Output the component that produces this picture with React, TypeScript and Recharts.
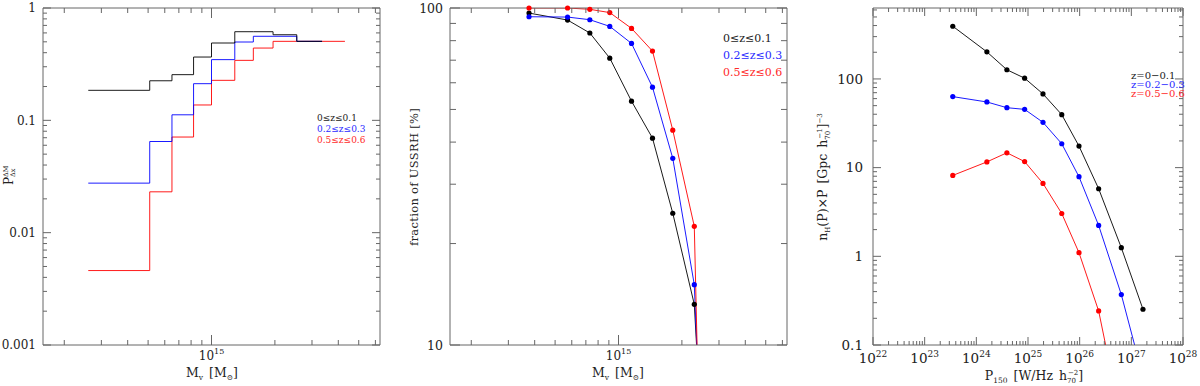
import React from 'react';
import { LineChart, Line, XAxis, YAxis } from 'recharts';

// left panel: histogram bin edges (virial mass, Msun) and probability per bin
const massBinEdges = [2.6e14, 5.09e14, 6.49e14, 8.22e14, 1.0e15, 1.29e15, 1.58e15, 1.96e15, 2.54e15, 3.35e15, 4.3e15];
const probZ01 = [0.185, 0.225, 0.255, 0.366, 0.488, 0.615, 0.615, 0.578, 0.505];
const probZ23 = [0.0276, 0.0648, 0.112, 0.212, 0.347, 0.498, 0.56, 0.56, 0.505];
const probZ56 = [0.0046, 0.0231, 0.071, 0.137, 0.227, 0.342, 0.44, 0.505, 0.505, 0.505];

// middle panel: fraction of USSRH [%] vs virial mass
const fracMass = [3.76e14, 5.73e14, 7.31e14, 9.09e14, 1.153e15, 1.45e15, 1.81e15, 2.29e15, 2.37e15];
const fracZ01 = [96.6, 92.1, 84.3, 71.0, 52.9, 41.1, 24.6, 13.2, 9];
const fracZ23 = [94.2, 94.0, 92.3, 88.2, 78.5, 58.2, 35.8, 15.1, 9];
const fracZ56 = [100, 100, 99.1, 96.9, 87.0, 74.5, 43.4, 22.5, 9];

// right panel: number density x P vs P150
const power150 = [3.5e23, 1.6e24, 3.9e24, 8.6e24, 1.95e25, 4.5e25, 9.7e25, 2.33e26, 6.4e26, 1.68e27];
const densZ01 = [393, 202, 127, 102, 67.8, 39.6, 17.5, 5.78, 1.25, 0.253];
const densZ23 = [63.2, 55, 47.4, 45.4, 32.4, 18.6, 7.9, 2.23, 0.37, 0.044];
const densZ56 = [8.17, 11.6, 14.7, 11.7, 6.64, 3.04, 1.1, 0.242, 0.0138];

const legendMass = ['0≤z≤0.1', '0.2≤z≤0.3', '0.5≤z≤0.6'];
const legendPower = ['z=0−0.1', 'z=0.2−0.3', 'z=0.5−0.6'];

const massMajors = [1e15];
const fracMajors = [10, 100];
const probMajors = [0.001, 0.01, 0.1, 1];
const powerMajors = [1e22, 1e23, 1e24, 1e25, 1e26, 1e27, 1e28];
const densMajors = [0.1, 1, 10, 100];

const FRAME = '#666';
const TXT = '#222';
const FONT = '"DejaVu Serif", serif';
const W = 400;
const H = 386;

// 1..9 x 10^e ticks inside a log domain
const logTicks = (lo: number, hi: number) => {
  const out: number[] = [];
  for (let e = Math.floor(Math.log10(lo)); e <= Math.ceil(Math.log10(hi)); e++) {
    for (let m = 1; m <= 9; m++) {
      const v = m * Math.pow(10, e);
      if (v >= lo * 0.9999 && v <= hi * 1.0001) out.push(v);
    }
  }
  return out;
};

const isMajor = (v: number, majors: number[]) => majors.some((m) => Math.abs(v / m - 1) < 1e-6);

type Side = 'bottom' | 'top' | 'left' | 'right';
type TickOpts = { majors: number[]; len: number; minor: number; font?: number; gap?: number; sup?: number };

const makeTick = (side: Side, o: TickOpts) => (props: any) => {
  const { x, y, payload } = props;
  const v = payload.value;
  const major = isMajor(v, o.majors);
  const l = major ? o.len : o.minor;
  const x2 = side === 'left' ? x + l : side === 'right' ? x - l : x;
  const y2 = side === 'bottom' ? y - l : side === 'top' ? y + l : y;
  let label = null;
  if (major && side === 'left') {
    label = (
      <text x={x - (o.gap ?? 7)} y={y} dy="0.36em" textAnchor="end" fontSize={o.font} fill={TXT} fontFamily={FONT}>
        {String(v)}
      </text>
    );
  }
  if (major && side === 'bottom') {
    label = (
      <text x={x} y={y + (o.gap ?? 15)} textAnchor="middle" fontSize={o.font} fill={TXT} fontFamily={FONT}>
        <tspan>10</tspan>
        <tspan dy={-6} fontSize={o.sup}>{Math.round(Math.log10(v))}</tspan>
      </text>
    );
  }
  return (
    <g>
      <line x1={x} y1={y} x2={x2} y2={y2} stroke={FRAME} strokeWidth={1} />
      {label}
    </g>
  );
};

type Series = { data: { x: number; y: number }[]; color: string; step?: boolean; dot?: boolean };

const pts = (xs: number[], ys: number[]) => ys.map((y, i) => ({ x: xs[i], y }));
const stepPts = (bins: number[]) =>
  massBinEdges.slice(0, bins.length + 1).map((x, i) => ({ x, y: bins[Math.min(i, bins.length - 1)] }));

type PanelProps = {
  margin: { top: number; right: number; bottom: number; left: number };
  xDomain: [number, number];
  yDomain: [number, number];
  xMajors: number[];
  yMajors: number[];
  xTick: Partial<TickOpts>;
  yTick: Partial<TickOpts>;
  series: Series[];
};

function Panel({ margin, xDomain, yDomain, xMajors, yMajors, xTick, yTick, series }: PanelProps) {
  const xt = logTicks(xDomain[0], xDomain[1]);
  const yt = logTicks(yDomain[0], yDomain[1]);
  const xo = { majors: xMajors, len: 9, minor: 5, ...xTick } as TickOpts;
  const yo = { majors: yMajors, len: 9, minor: 5, ...yTick } as TickOpts;
  const common = { type: 'number' as const, scale: 'log' as const, allowDataOverflow: true, interval: 0, tickSize: 0, tickMargin: 0, stroke: FRAME };
  return (
    <LineChart width={W} height={H} margin={margin}>
      <XAxis xAxisId="b" dataKey="x" {...common} domain={xDomain} ticks={xt} height={30} tick={makeTick('bottom', xo)} />
      <XAxis xAxisId="t" orientation="top" dataKey="x" {...common} domain={xDomain} ticks={xt} height={1} tick={makeTick('top', xo)} />
      <YAxis yAxisId="l" {...common} domain={yDomain} ticks={yt} width={40} tick={makeTick('left', yo)} />
      <YAxis yAxisId="r" orientation="right" {...common} domain={yDomain} ticks={yt} width={1} tick={makeTick('right', yo)} />
      {series.map((s, i) => (
        <Line
          key={i}
          xAxisId="b"
          yAxisId="l"
          data={s.data}
          dataKey="y"
          type={s.step ? 'stepAfter' : 'linear'}
          stroke={s.color}
          strokeWidth={0.9}
          dot={s.dot ? { r: 2.6, fill: s.color, stroke: 'none', clipDot: false } : false}
          activeDot={false}
          isAnimationActive={false}
        />
      ))}
    </LineChart>
  );
}

const BLACK = '#000000';
const BLUE = '#0000ff';
const RED = '#ff0000';
const legendColors = ['#222', '#2a2aff', '#ff2a2a'];

export default function App() {
  return (
    <div style={{ position: 'absolute', left: 0, top: 0, width: 1200, height: 386, background: '#fff', fontFamily: FONT }}>
      <div style={{ position: 'absolute', left: 0, top: 0 }}>
        <Panel
          margin={{ top: 7, right: 19, bottom: 11, left: 3 }}
          xDomain={[Math.pow(10, 14.2), Math.pow(10, 15.8)]}
          yDomain={[0.001, 1]}
          xMajors={massMajors}
          yMajors={probMajors}
          xTick={{ font: 12, sup: 8, gap: 15, len: 10 }}
          yTick={{ font: 12, gap: 7, len: 8, minor: 4 }}
          series={[
            { data: stepPts(probZ56), color: RED, step: true },
            { data: stepPts(probZ23), color: BLUE, step: true },
            { data: stepPts(probZ01), color: BLACK, step: true },
          ]}
        />
      </div>
      <div style={{ position: 'absolute', left: 400, top: 0 }}>
        <Panel
          margin={{ top: 7, right: 12, bottom: 11, left: 10 }}
          xDomain={[Math.pow(10, 14.2), Math.pow(10, 15.8)]}
          yDomain={[10, 100]}
          xMajors={massMajors}
          yMajors={fracMajors}
          xTick={{ font: 12, sup: 8, gap: 15, len: 10 }}
          yTick={{ font: 12.5, gap: 7, len: 10, minor: 6 }}
          series={[
            { data: pts(fracMass, fracZ01), color: BLACK, dot: true },
            { data: pts(fracMass, fracZ23), color: BLUE, dot: true },
            { data: pts(fracMass, fracZ56), color: RED, dot: true },
          ]}
        />
      </div>
      <div style={{ position: 'absolute', left: 800, top: 0 }}>
        <Panel
          margin={{ top: 7, right: 16, bottom: 11, left: 33 }}
          xDomain={[1e22, 1e28]}
          yDomain={[0.1, Math.pow(10, 2.8)]}
          xMajors={powerMajors}
          yMajors={densMajors}
          xTick={{ font: 13.5, sup: 9, gap: 18, len: 8, minor: 4 }}
          yTick={{ font: 13.5, gap: 10, len: 8, minor: 4 }}
          series={[
            { data: pts(power150, densZ01), color: BLACK, dot: true },
            { data: pts(power150, densZ23), color: BLUE, dot: true },
            { data: pts(power150, densZ56), color: RED, dot: true },
          ]}
        />
      </div>

      <svg width={1200} height={386} style={{ position: 'absolute', left: 0, top: 0, pointerEvents: 'none' }} fontFamily={FONT} fill={TXT}>
        {/* left panel titles */}
        <g transform="translate(13,177) rotate(-90)">
          <text x={-8} y={0} fontSize={12}>P</text>
          <text x={0} y={-5} fontSize={6.5}>ΔM</text>
          <text x={0} y={2} fontSize={6.5}>Δx</text>
        </g>
        <text x={212} y={377} textAnchor="middle" fontSize={12.5}>
          M<tspan fontSize={7.5} dy={3}>v</tspan>
          <tspan dy={-3} dx={6}>[M</tspan>
          <tspan fontSize={7.5} dy={3}>⊙</tspan>
          <tspan dy={-3}>]</tspan>
        </text>
        {legendMass.map((t, i) => (
          <text key={t} x={317} y={120.5 + i * 11} fontSize={9} fill={legendColors[i]}>{t}</text>
        ))}

        {/* middle panel titles */}
        <text transform="translate(418,177) rotate(-90)" textAnchor="middle" fontSize={11.5} letterSpacing={0.3}>
          fraction of USSRH [%]
        </text>
        <text x={618} y={377} textAnchor="middle" fontSize={12.5}>
          M<tspan fontSize={7.5} dy={3}>v</tspan>
          <tspan dy={-3} dx={6}>[M</tspan>
          <tspan fontSize={7.5} dy={3}>⊙</tspan>
          <tspan dy={-3}>]</tspan>
        </text>
        {legendMass.map((t, i) => (
          <text key={t} x={723} y={42 + i * 16.8} fontSize={11} fill={legendColors[i]}>{t}</text>
        ))}

        {/* right panel titles */}
        <text transform="translate(827,177) rotate(-90)" textAnchor="middle" fontSize={12.5}>
          n<tspan fontSize={7} dy={3}>H</tspan>
          <tspan dy={-3}>(P)×P</tspan>
          <tspan dx={6}>[Gpc</tspan>
          <tspan dx={6}>h</tspan>
          <tspan fontSize={7} dy={3}>70</tspan>
          <tspan fontSize={7} dx={-8} dy={-8}>−1</tspan>
          <tspan dy={5}>]</tspan>
          <tspan fontSize={7} dy={-5}>−3</tspan>
        </text>
        <text x={1034} y={380} textAnchor="middle" fontSize={12.5}>
          P<tspan fontSize={7.5} dy={3}>150</tspan>
          <tspan dy={-3} dx={6}>[W/Hz</tspan>
          <tspan dx={6}>h</tspan>
          <tspan fontSize={7} dy={3}>70</tspan>
          <tspan fontSize={7} dx={-8} dy={-8}>−2</tspan>
          <tspan dy={5}>]</tspan>
        </text>
        {legendPower.map((t, i) => (
          <text key={t} x={1131} y={79 + i * 8.8} fontSize={10} fill={legendColors[i]}>{t}</text>
        ))}
      </svg>
    </div>
  );
}
